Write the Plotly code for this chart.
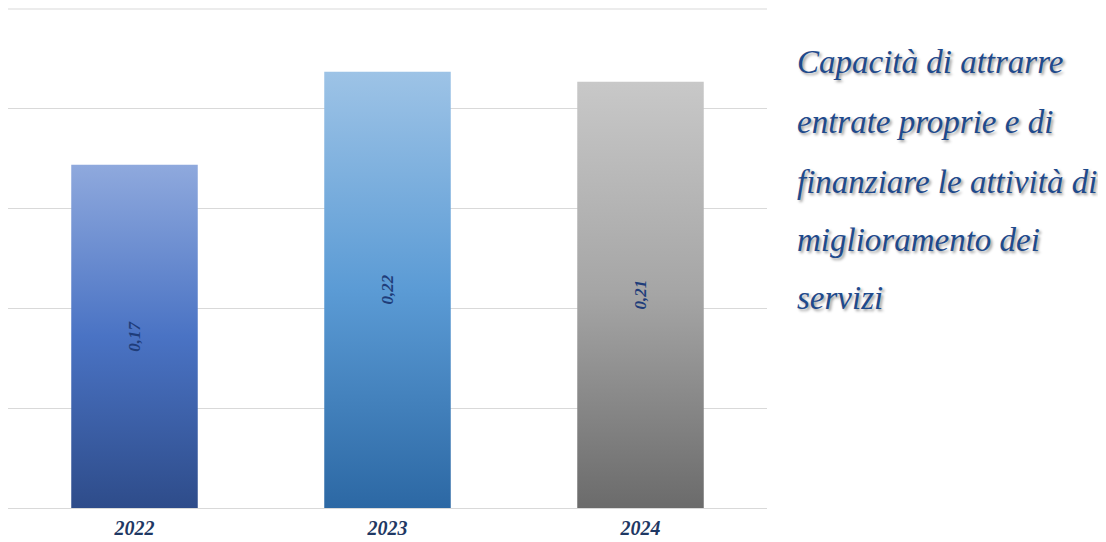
import plotly.graph_objects as go

years = ["2022", "2023", "2024"]
values = [0.172, 0.2185, 0.2135]
top_colors = ["#8FA9DD", "#9DC3E6", "#C8C8C8"]
mid_colors = ["#4A73C4", "#5B9BD5", "#A5A5A5"]
bottom_colors = ["#2E4C8A", "#2C68A4", "#6B6B6B"]
side_lines = ["Capacità di attrarre", "entrate proprie e di",
              "finanziare le attività di", "miglioramento dei", "servizi"]
y_max = 0.25

bar_width = 0.5
fig = go.Figure()

for i, (yr, v) in enumerate(zip(years, values)):
    x0, x1 = i - bar_width / 2, i + bar_width / 2
    fig.add_trace(go.Scatter(
        x=[x0, x1, x1, x0, x0], y=[0, 0, v, v, 0],
        mode="lines", fill="toself", line=dict(width=0),
        fillgradient=dict(type="vertical", start=0, stop=v,
                          colorscale=[[0, bottom_colors[i]], [0.5, mid_colors[i]],
                                      [1, top_colors[i]]]),
        hoverinfo="skip", showlegend=False))
    fig.add_annotation(
        x=i, y=v / 2, xref="x", yref="y", showarrow=False,
        text=f"{v:.2f}".replace(".", ","), textangle=-90,
        font=dict(family="Liberation Serif", size=17, color="#1F3D7A",
                  weight="bold", style="italic"))

# page has an 8px body margin; figure is placed at (8, 8) on screen
W, H = 1098, 534
plot_left, plot_right, plot_top, plot_bottom = 0, 759, 0, 500

fig.update_layout(
    width=W, height=H,
    margin=dict(l=plot_left, r=W - plot_right, t=plot_top, b=H - plot_bottom),
    paper_bgcolor="white", plot_bgcolor="white",
    xaxis=dict(range=[-0.5, 2.5], tickvals=list(range(len(years))), ticktext=years,
               showgrid=False, zeroline=False, showline=False, ticks="",
               ticklabelstandoff=6,
               tickfont=dict(family="Liberation Serif", size=20, color="#1F3864",
                             weight="bold", style="italic")),
    yaxis=dict(range=[0, y_max + 0.0005], tickvals=[0.05, 0.10, 0.15, 0.20, 0.25],
               showticklabels=False,
               showgrid=True, gridcolor="#D9D9D9", gridwidth=1,
               zeroline=True, zerolinecolor="#D9D9D9", zerolinewidth=1),
)
# top gridline (at the edge of the plot area)
fig.add_shape(type="line", xref="paper", yref="y", x0=0, x1=1, y0=y_max, y1=y_max,
              line=dict(color="#D9D9D9", width=1), layer="below")

line_px = [62, 122, 182, 240, 298]  # screen pixel centres
for txt, py in zip(side_lines, line_px):
    fig.add_annotation(
        text=txt, xref="paper", yref="paper",
        x=(795 - 8) / 759, y=(508 - py) / 500,
        xanchor="left", yanchor="middle", showarrow=False,
        font=dict(family="Liberation Serif", size=33, color="#1F4A8C",
                  style="italic", shadow="2px 2px 3px #9a9a9a"))

fig.write_html("out.html")
